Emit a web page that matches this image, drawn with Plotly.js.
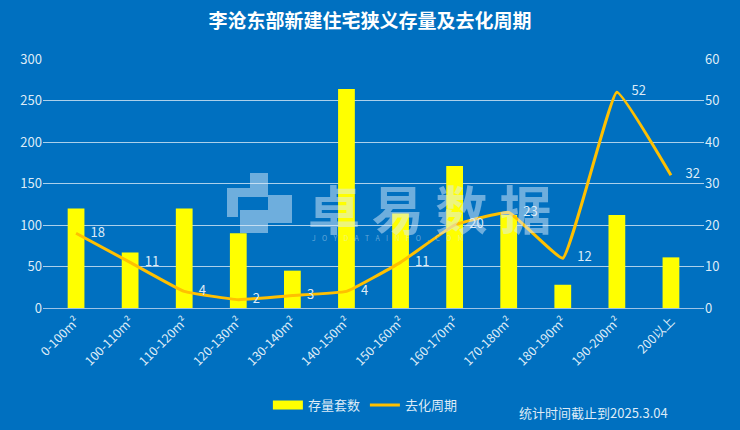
<!DOCTYPE html>
<html><head><meta charset="utf-8">
<script src="https://cdn.plot.ly/plotly-3.0.1.min.js"></script>
<style>html,body{margin:0;padding:0;background:#0070C0;}#c{width:740px;height:430px;}</style>
</head><body><div id="c"></div>
<script>
var categories = ['0-100m²','100-110m²','110-120m²','120-130m²','130-140m²','140-150m²','150-160m²','160-170m²','170-180m²','180-190m²','190-200m²','200以上'];
var stock = [120, 67, 120, 90, 45, 264, 114, 171, 112, 28, 112, 61];
var cycle = [18, 11, 4, 2, 3, 4, 11, 20, 23, 12, 52, 32];
var cycleLabels = ['18','11','4','2','3','4','11','20','23','12','52','32'];

var fontFam = '"Noto Sans CJK SC", "Noto Sans", sans-serif';
var txtCol = '#DDEBF7';
var wm = 'rgba(220,235,250,0.5)';

// plot area in pixels: x 43..704, y 59..308
function px(x){ return (x - 43) / 661; }
function py(y){ return (308 - y) / 249; }
function rect(x0,y0,x1,y1){
  return {type:'rect', xref:'paper', yref:'paper', x0:px(x0), x1:px(x1), y0:py(y1), y1:py(y0), fillcolor:wm, line:{width:0}, layer:'above'};
}

var traces = [
  {type:'bar', name:'存量套数', x:categories, y:stock, marker:{color:'#FFFF00'}, width:0.31, hoverinfo:'skip', showlegend:false},
  {type:'scatter', mode:'lines', name:'存量套数', x:[null], y:[null], line:{color:'#FFFF00', width:9}, hoverinfo:'skip', showlegend:true},
  {type:'scatter', mode:'lines+text', name:'去化周期', x:categories, y:cycle, yaxis:'y2',
   line:{color:'#FFC000', width:3, shape:'spline', smoothing:0.3},
   text:cycleLabels.map(function(s){return '&nbsp;&nbsp;&nbsp;&nbsp;&nbsp;' + s;}), textposition:'middle right',
   textfont:{color:txtCol, size:13, family:fontFam}, cliponaxis:false, hoverinfo:'skip'}
];

var layout = {
  width:740, height:430,
  paper_bgcolor:'#0070C0', plot_bgcolor:'#0070C0',
  margin:{l:43, r:36, t:59, b:122},
  font:{family:fontFam, color:txtCol, size:12},
  title:{text:'<b>李沧东部新建住宅狭义存量及去化周期</b>', x:0.5, xanchor:'center', y:0.95, yanchor:'middle', font:{size:19, color:'#FFFFFF', family:fontFam}},
  showlegend:true,
  legend:{orientation:'h', xref:'container', yref:'container', x:0.362, xanchor:'left', y:0.058, yanchor:'middle', font:{size:13, color:txtCol}, bgcolor:'rgba(0,0,0,0)', traceorder:'normal', itemwidth:30},
  xaxis:{tickangle:-45, tickfont:{size:12.5, color:txtCol}, showgrid:false, showline:true, linecolor:'#9DC3E6', linewidth:1, ticks:'', fixedrange:true, automargin:false},
  yaxis:{range:[0,300], dtick:50, showgrid:true, gridcolor:'rgba(230,240,250,0.75)', gridwidth:1, zeroline:false, tickfont:{size:13, color:txtCol}, ticks:'', fixedrange:true, automargin:false},
  yaxis2:{range:[0,60], dtick:10, overlaying:'y', side:'right', showgrid:false, zeroline:false, tickfont:{size:13, color:txtCol}, ticks:'', fixedrange:true, automargin:false},
  annotations:[
    {text:'统计时间截止到2025.3.04', xref:'paper', yref:'paper', x:0.948, xanchor:'right', y:-0.418, yanchor:'middle', showarrow:false, font:{size:13, color:txtCol}},
    {text:'<b>卓 易 数 据</b>', xref:'paper', yref:'paper', x:px(306), xanchor:'left', y:py(207), yanchor:'middle', showarrow:false, font:{size:52, color:wm, family:fontFam}},
    {text:'J    O    Y    D    A    T    A    I    N    F    O    .    C    O    M', xref:'paper', yref:'paper', x:px(310), xanchor:'left', y:py(238), yanchor:'middle', showarrow:false, font:{size:7, color:'rgba(220,235,250,0.45)'}}
  ],
  shapes:[
    rect(250,173,268,188),
    rect(227,188,268,197),
    rect(227,197,238,217),
    rect(268,195,292,223),
    rect(240,210,268,233)
  ]
};
Plotly.newPlot('c', traces, layout, {displayModeBar:false, staticPlot:true});
</script></body></html>
